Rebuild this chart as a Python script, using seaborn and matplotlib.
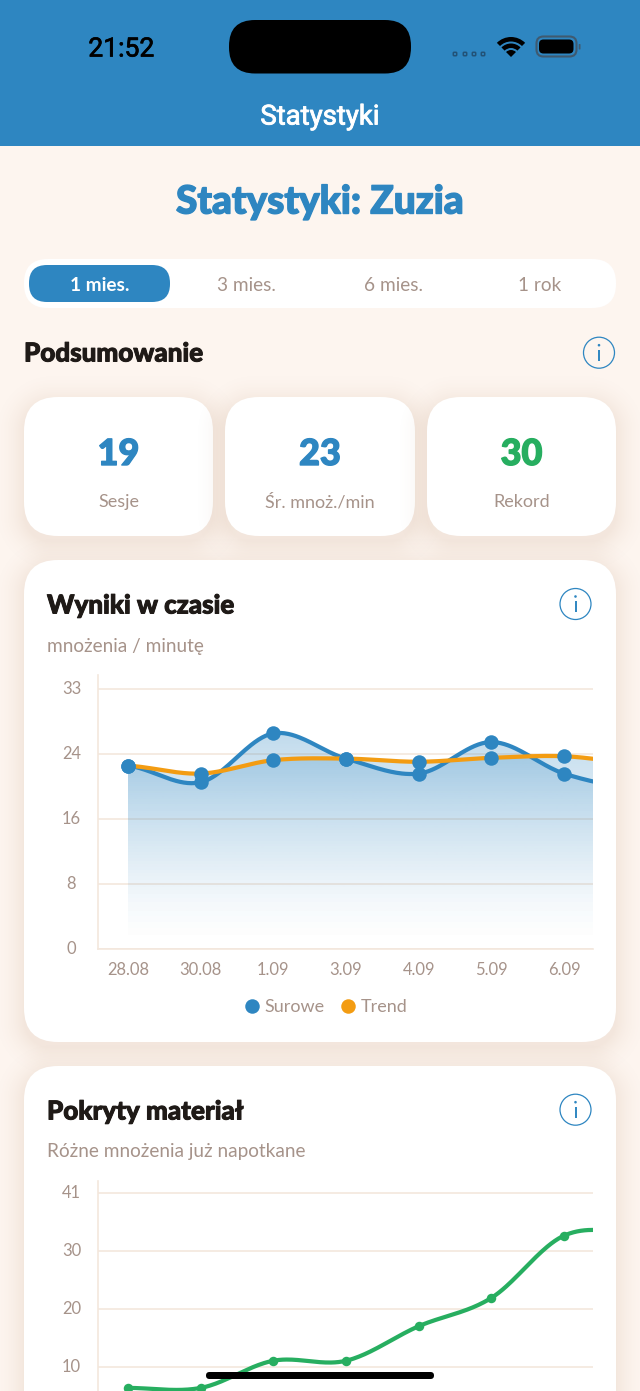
import numpy as np
import pandas as pd
import matplotlib.pyplot as plt
import seaborn as sns
import matplotlib.patheffects as pe
from matplotlib.colors import to_rgb
from matplotlib.lines import Line2D
from matplotlib.patches import Circle, FancyBboxPatch, Rectangle, Wedge

# values (the 8th point is scrolled out of view)
days = ["28.08", "30.08", "1.09", "3.09", "4.09", "5.09", "6.09", "7.09"]
raw_scores = [23.3, 21.2, 27.4, 24.2, 22.3, 26.3, 22.3, 20.4]
trend_scores = [23.3, 22.3, 24.0, 24.2, 23.8, 24.3, 24.5, 23.6]
covered = [6.5, 6.5, 11.3, 11.3, 17.4, 22.4, 33.4, 34.0]
visible_points = 7

score_grid = [0, 8.25, 16.5, 24.75, 33]
score_labels = ["0", "8", "16", "24", "33"]
covered_grid = [0, 10.25, 20.5, 30.75, 41]
covered_labels = ["", "10", "20", "30", "41"]

periods = ["1 mies.", "3 mies.", "6 mies.", "1 rok"]
stat_values = ["19", "23", "30"]
stat_names = ["Sesje", "Śr. mnoż./min", "Rekord"]

BLUE = "#2E86C1"
ORANGE = "#F39C12"
GREEN = "#27AE60"
BG = "#FDF5EF"
DARK = "#1F1A17"
MUTED = "#A6938A"
GRID = "#F3E7DD"
SHADOW = "#BE9678"
TITLE_FONT = "Lato"
BODY_FONT = "Lato"

W, H = 640, 1391

sns.set_theme(style="white")
plt.rcParams["font.family"] = [BODY_FONT, "DejaVu Sans"]

fig = plt.figure(figsize=(W / 100, H / 100), dpi=100, facecolor=BG)
card_z = [1.0]


def px(size):
    return size * 0.72


def box_to_fig(left, top, right, bottom):
    return [left / W, 1 - bottom / H, (right - left) / W, (bottom - top) / H]


def overlay(z):
    a = fig.add_axes([0, 0, 1, 1], zorder=z)
    a.set_xlim(0, W)
    a.set_ylim(H, 0)
    a.set_autoscale_on(False)
    a.axis("off")
    a.patch.set_alpha(0)
    return a


def rounded(a, x0, y0, x1, y1, r, **kw):
    kw.setdefault("linewidth", 0)
    p = FancyBboxPatch((x0, y0), x1 - x0, y1 - y0,
                       boxstyle=f"round,pad=0,rounding_size={r}", **kw)
    a.add_patch(p)
    return p


def card(a, x0, y0, x1, y1, r=34):
    # shadow from the distance to the card edge, offset downwards
    yy, xx = np.mgrid[0:H, 0:W]
    cx, cy = (x0 + x1) / 2, (y0 + y1) / 2 + 6
    qx = np.abs(xx + 0.5 - cx) - (x1 - x0) / 2 + 28
    qy = np.abs(yy + 0.5 - cy) - (y1 - y0) / 2 + 28
    d = np.hypot(np.maximum(qx, 0), np.maximum(qy, 0)) + np.minimum(np.maximum(qx, qy), 0) - 28
    img = np.zeros((H, W, 4))
    img[..., 0], img[..., 1], img[..., 2] = to_rgb(SHADOW)
    img[..., 3] = 0.15 * np.clip(1 - d / 32, 0, 1) ** 2
    a.imshow(img, extent=(0, W, H, 0), aspect="auto", interpolation="nearest", zorder=card_z[0])
    rounded(a, x0, y0, x1, y1, r, facecolor="white", zorder=card_z[0] + 0.01)
    card_z[0] += 0.1


def info_icon(a, x, y):
    a.add_patch(Circle((x, y), 15.5, facecolor="none", edgecolor=BLUE, linewidth=0.9, zorder=5))
    a.plot([x, x], [y - 3, y + 8], color=BLUE, lw=1.4, solid_capstyle="butt", zorder=5)
    a.add_patch(Circle((x, y - 7.5), 1.3, facecolor=BLUE, linewidth=0, zorder=5))


def heading(a, x, y, s, size, color, ha="left", stroke=0.7):
    t = a.text(x, y, s, ha=ha, va="center_baseline", fontsize=px(size), color=color,
               family=TITLE_FONT, fontweight="black", zorder=6)
    t.set_path_effects([pe.withStroke(linewidth=stroke, foreground=color)])
    return t


def body(a, x, y, s, size, color=MUTED, ha="center", stroke=0, **kw):
    t = a.text(x, y, s, ha=ha, va="center_baseline", fontsize=px(size), color=color, zorder=6, **kw)
    if stroke:
        t.set_path_effects([pe.withStroke(linewidth=stroke, foreground=color)])
    return t


def smooth(y, n=40):
    # catmull-rom through the points, only to draw the curved line
    y = np.asarray(y, dtype=float)
    xs, ys = [], []
    for i in range(len(y) - 1):
        m0 = (y[i + 1] - y[max(i - 1, 0)]) / 2
        m1 = (y[min(i + 2, len(y) - 1)] - y[i]) / 2
        t = np.linspace(0, 1, n)
        h = (2 * t**3 - 3 * t**2 + 1) * y[i] + (t**3 - 2 * t**2 + t) * m0 \
            + (-2 * t**3 + 3 * t**2) * y[i + 1] + (t**3 - t**2) * m1
        xs.extend(i + t)
        ys.extend(h)
    return np.array(xs), np.array(ys)


def style_chart(a, top, grid, labels, xlabels=True):
    a.set_xlim((98.4 - 128) / 72.67, (593 - 128) / 72.67)
    a.set_ylim(0, top)
    a.patch.set_alpha(0)
    a.set_yticks(grid)
    a.set_yticklabels(labels)
    a.set_xticks(range(visible_points))
    a.set_xticklabels(days[:visible_points] if xlabels else [""] * visible_points)
    a.set_xlabel("")
    a.set_ylabel("")
    a.set_axisbelow(True)
    a.grid(axis="y", color=GRID, linewidth=1.2)
    a.grid(axis="x", visible=False)
    a.tick_params(left=False, bottom=False, length=0, labelcolor=MUTED, labelsize=px(16.5))
    a.tick_params(axis="y", pad=px(27))
    a.tick_params(axis="x", pad=px(13))
    for t in a.get_yticklabels():
        t.set_ha("center")
        t.set_va("center")
    sns.despine(ax=a)
    for s in ("left", "bottom"):
        a.spines[s].set_color(GRID)
        a.spines[s].set_linewidth(1.2)


def gradient_area(a, xs, ys, top, strength):
    band = a.fill_between(xs, ys, 0, facecolor="none", linewidth=0)
    rgb = to_rgb(BLUE)
    alpha = strength * np.linspace(1, 0, 256) ** 1.55
    img = np.zeros((256, 1, 4))
    img[..., 0], img[..., 1], img[..., 2] = rgb
    img[..., 3] = alpha[:, None]
    im = a.imshow(img, extent=(0, len(days), 0, top), aspect="auto", origin="upper",
                  interpolation="bilinear", zorder=1.2)
    im.set_clip_path(band.get_paths()[0], transform=a.transData)


back = overlay(0)

# header
back.add_patch(Rectangle((0, 0), W, 146, facecolor=BLUE, linewidth=0))
rounded(back, 229, 20, 411, 73.5, 26, facecolor="black")
body(back, 121.5, 46, "21:52", 26.5, color="black", family="Roboto", stroke=0.5)
body(back, 320, 114, "Statystyki", 27.5, color="white", family="Roboto", stroke=0.6)
for sx in (455, 465, 474, 483):
    rounded(back, sx - 1.7, 52.3, sx + 1.7, 55.7, 0.8, facecolor="none", edgecolor="#225277", linewidth=1.1)
for r, wd in ((20, 4.5), (13.5, 4.5), (7, 7)):
    back.add_patch(Wedge((511, 57), r, 225, 315, width=wd, facecolor="black", linewidth=0))
rounded(back, 536.5, 36.5, 576.5, 56.5, 7, facecolor="none", edgecolor="#3F5A70", linewidth=1.5)
rounded(back, 539, 39.5, 573.5, 53.5, 4.5, facecolor="black")
rounded(back, 578.7, 44, 580.5, 49.5, 0.6, facecolor="#3F5A70")

# page title and period switch
heading(back, 320, 198.5, "Statystyki: Zuzia", 38.8, BLUE, ha="center", stroke=1.0)
rounded(back, 24, 259, 616, 308, 24, facecolor="white")
rounded(back, 29, 265, 170, 302, 18, facecolor=BLUE)
for i, (name, cx) in enumerate(zip(periods, (100, 246, 393, 540))):
    body(back, cx, 284, name, 19, color="white" if i == 0 else MUTED,
         fontweight="bold" if i == 0 else "normal")

# summary
heading(back, 24, 351.5, "Podsumowanie", 26, DARK)
info_icon(back, 599, 352.7)
stat_colors = [BLUE, BLUE, GREEN]
for (x0, x1), value, name, col in zip(((24, 213), (225, 415), (427, 616)), stat_values, stat_names, stat_colors):
    card(back, x0, 397, x1, 536)
    cx = (x0 + x1) / 2
    heading(back, cx, 451.5, value, 36, col, ha="center", stroke=1.0)
    body(back, cx, 500.5, name, 18)

# chart cards
card(back, 24, 560, 616, 1042)
card(back, 24, 1066, 616, 1500)
heading(back, 47, 603.5, "Wyniki w czasie", 26, DARK)
body(back, 47, 645, "mnożenia / minutę", 19, ha="left")
info_icon(back, 575.5, 604)
heading(back, 47, 1109.5, "Pokryty materiał", 26, DARK)
body(back, 47, 1150, "Różne mnożenia już napotkane", 19, ha="left")
info_icon(back, 575.5, 1109.7)

# wyniki w czasie
ax1 = fig.add_axes(box_to_fig(98.4, 675, 593, 949.3), zorder=2)
positions = np.arange(len(days))
raw_x, raw_y = smooth(raw_scores)
trend_x, trend_y = smooth(trend_scores)
gradient_area(ax1, raw_x, raw_y, 27.5, 0.3)
gradient_area(ax1, trend_x, trend_y, 27.5, 0.3)
sns.lineplot(x=raw_x, y=raw_y, ax=ax1, color=BLUE, linewidth=px(4.2), sort=False, estimator=None, zorder=3)
sns.lineplot(x=trend_x, y=trend_y, ax=ax1, color=ORANGE, linewidth=px(4.2), sort=False, estimator=None, zorder=3.2)
dots = pd.DataFrame({"x": positions[:visible_points], "raw": raw_scores[:visible_points],
                     "trend": trend_scores[:visible_points]})
sns.scatterplot(data=dots, x="x", y="raw", ax=ax1, color=BLUE, s=px(14.5) ** 2, linewidth=0, zorder=4)
sns.scatterplot(data=dots, x="x", y="trend", ax=ax1, color=BLUE, s=px(14.5) ** 2, linewidth=0, zorder=4)
style_chart(ax1, (949.3 - 675) / 7.88, score_grid, score_labels)

handles = [Line2D([], [], marker="o", linestyle="none", color=BLUE, markersize=px(14.5), markeredgewidth=0),
           Line2D([], [], marker="o", linestyle="none", color=ORANGE, markersize=px(14.5), markeredgewidth=0)]
ax1.legend(handles, ["Surowe", "Trend"], loc="center", bbox_to_anchor=(325 / W, 1 - 1007.5 / H),
           bbox_transform=fig.transFigure, ncol=2, frameon=False, fontsize=px(18),
           labelcolor=MUTED, handlelength=1.0, handletextpad=0.2, columnspacing=0.78)

# pokryty material
ax2 = fig.add_axes(box_to_fig(98.4, 1180.7, 593, 1424.7), zorder=2)
cov_x, cov_y = smooth(covered)
sns.lineplot(x=cov_x, y=cov_y, ax=ax2, color=GREEN, linewidth=px(4.2), sort=False, estimator=None, zorder=3)
sns.scatterplot(x=positions[:visible_points], y=covered[:visible_points], ax=ax2, color=GREEN,
                s=px(9.5) ** 2, linewidth=0, zorder=4)
style_chart(ax2, (1424.7 - 1180.7) / 5.66, covered_grid, covered_labels, xlabels=False)

# home indicator sits above everything
front = overlay(5)
rounded(front, 206, 1372, 434, 1379, 3.5, facecolor="black")

fig.savefig("out.png", dpi=100, facecolor=BG)
